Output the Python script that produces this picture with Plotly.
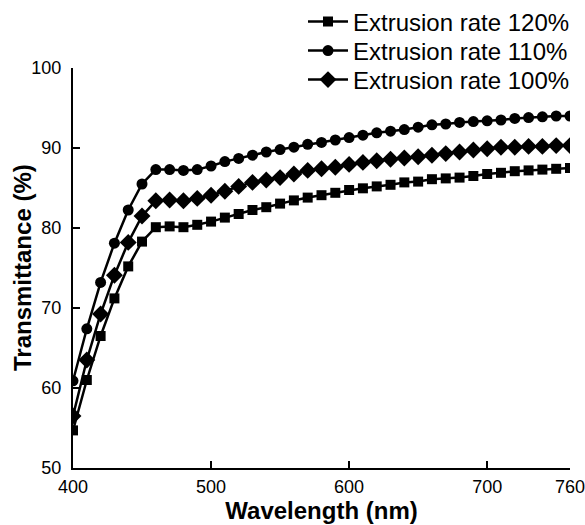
import plotly.graph_objects as go

wavelength = list(range(400, 761, 10))

rate_120 = [54.7, 61.0, 66.5, 71.2, 75.2, 78.3, 80.1, 80.2, 80.1, 80.4,
            80.8, 81.3, 81.75, 82.25, 82.6, 83.05, 83.45, 83.8, 84.1, 84.4,
            84.75, 84.96, 85.2, 85.4, 85.7, 85.8, 86.1, 86.2, 86.3, 86.5,
            86.75, 86.9, 87.1, 87.2, 87.3, 87.4, 87.5]

rate_110 = [60.9, 67.4, 73.2, 78.1, 82.25, 85.5, 87.3, 87.3, 87.2, 87.3,
            87.75, 88.3, 88.7, 89.1, 89.5, 89.8, 90.1, 90.46, 90.7, 91.0,
            91.3, 91.6, 91.9, 92.1, 92.3, 92.6, 92.9, 93.0, 93.2, 93.3,
            93.4, 93.5, 93.7, 93.8, 93.9, 94.0, 94.0]

rate_100 = [56.5, 63.5, 69.25, 74.1, 78.2, 81.5, 83.4, 83.5, 83.4, 83.7,
            84.1, 84.6, 85.2, 85.7, 86.0, 86.3, 86.75, 87.2, 87.4, 87.6,
            87.95, 88.2, 88.4, 88.6, 88.75, 88.9, 89.1, 89.3, 89.5, 89.75,
            89.9, 90.1, 90.1, 90.2, 90.2, 90.3, 90.3]

series_names = ["Extrusion rate 120%", "Extrusion rate 110%", "Extrusion rate 100%"]
x_tick_vals = [400, 500, 600, 700, 760]
y_tick_vals = [50, 60, 70, 80, 90, 100]
x_title = "<b>Wavelength (nm)</b>"
y_title = "<b>Transmittance (%)</b>"

FONT = "Liberation Sans, Arial, sans-serif"
W, H = 585, 525
ML, MR, MT, MB = 73, 15, 68, 57

fig = go.Figure()
specs = [
    (rate_120, series_names[0], "square", 10, "legend", 22),
    (rate_110, series_names[1], "circle", 11, "legend2", 51),
    (rate_100, series_names[2], "diamond", 13, "legend3", 80),
]
legend_layouts = {}
for vals, name, sym, size, leg, row_y in specs:
    fig.add_trace(go.Scatter(
        x=wavelength, y=vals, name=name, mode="lines+markers",
        line=dict(color="black", width=2.5),
        marker=dict(symbol=sym, size=size, color="black"),
        legend=leg,
    ))
    legend_layouts[leg] = dict(
        xref="container", yref="container",
        x=303 / W, xanchor="left", y=1 - row_y / H, yanchor="middle",
        font=dict(size=24, family=FONT, color="black"),
        bgcolor="rgba(0,0,0,0)", itemwidth=40,
    )

plot_w = W - ML - MR
fig.update_layout(
    width=W, height=H,
    margin=dict(l=ML, r=MR, t=MT, b=MB, autoexpand=False),
    paper_bgcolor="white", plot_bgcolor="white",
    font=dict(family=FONT, color="black", size=18),
    showlegend=True,
    **legend_layouts,
    xaxis=dict(
        range=[400, 760], tickvals=x_tick_vals, automargin=False,
        ticks="inside", ticklen=7, tickwidth=1.5, tickcolor="black",
        showline=True, linecolor="black", linewidth=2,
        showgrid=False, zeroline=False,
        tickfont=dict(size=18, family=FONT),
        ticklabelstandoff=1, ticklabeloverflow="allow",
        title=dict(text=x_title, font=dict(size=24, family=FONT), standoff=6),
    ),
    yaxis=dict(
        range=[50, 100], tickvals=y_tick_vals, automargin=False,
        ticks="inside", ticklen=7, tickwidth=1.5, tickcolor="black",
        showline=True, linecolor="black", linewidth=2,
        showgrid=False, zeroline=False,
        tickfont=dict(size=18, family=FONT),
        ticklabelstandoff=6,
    ),
)
fig.add_annotation(
    text=y_title, xref="paper", yref="paper",
    x=(22 - ML) / plot_w, y=0.5, xanchor="center", yanchor="middle",
    textangle=-90, showarrow=False,
    font=dict(size=24, family=FONT, color="black"),
)

fig.write_html(
    "out.html",
    config={"displayModeBar": False},
    post_script="document.body.style.margin='0';document.body.style.overflow='hidden';",
)
